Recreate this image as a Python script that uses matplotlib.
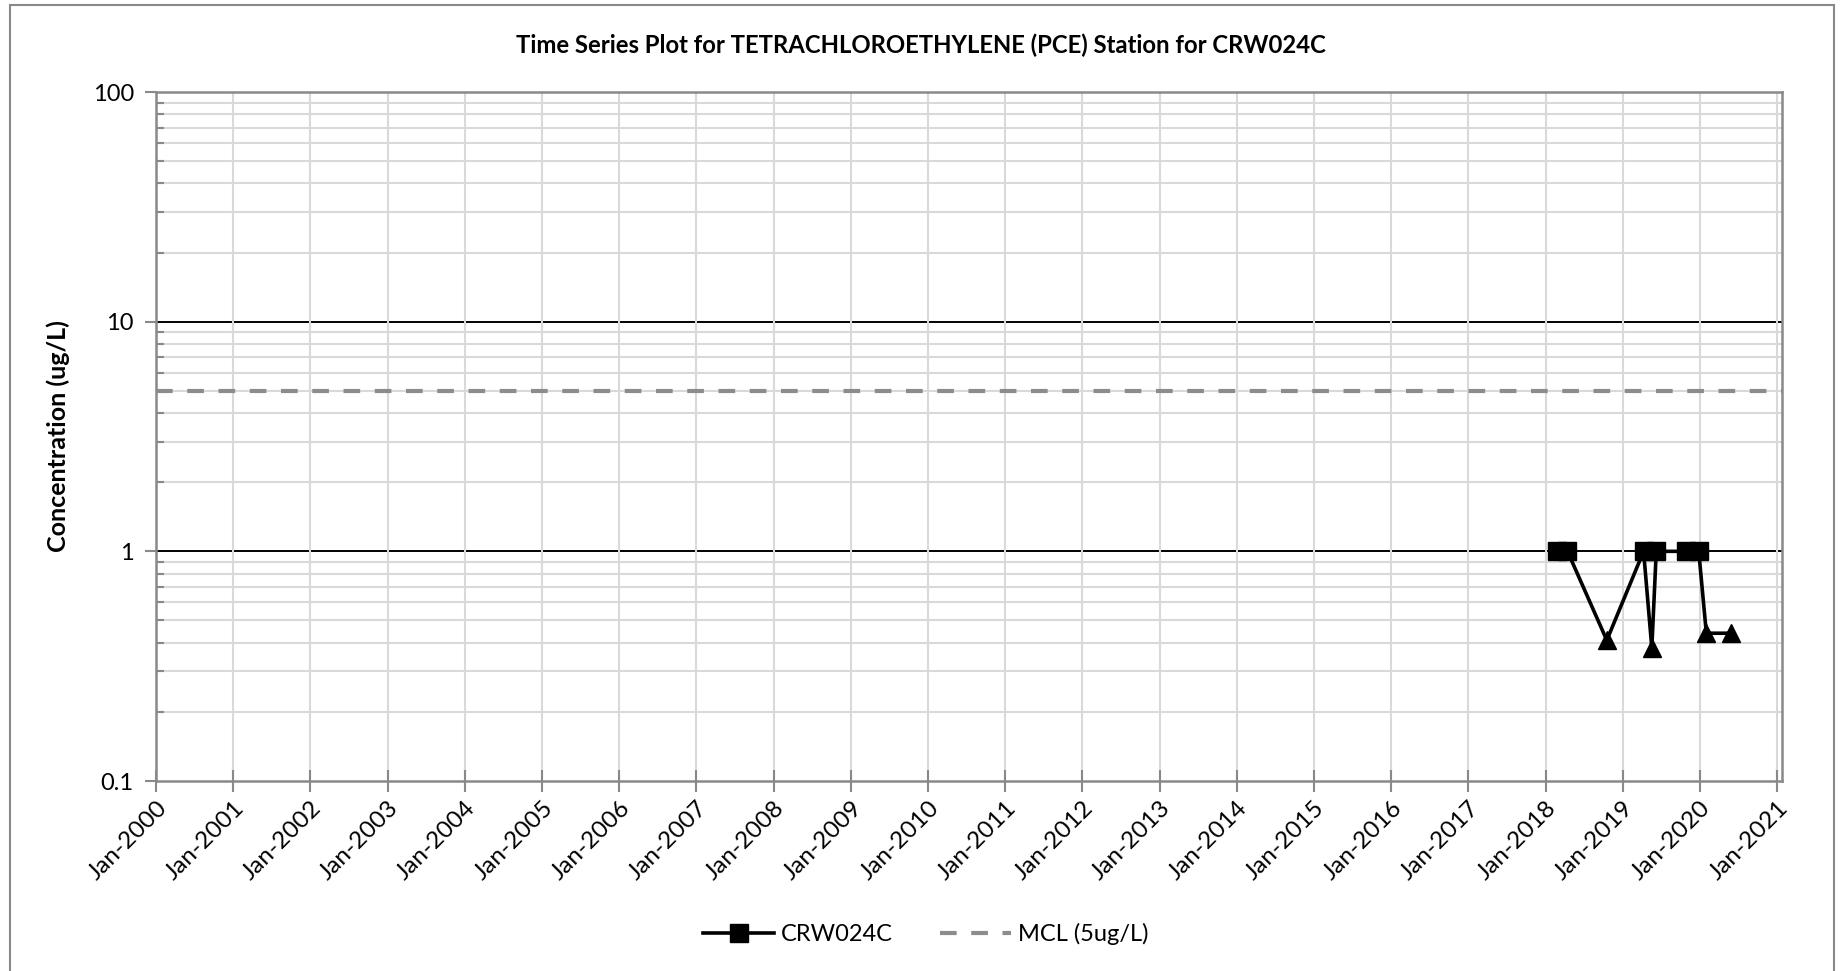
## Libraries:
import datetime as dt
import matplotlib
matplotlib.use("Agg")
import matplotlib.pyplot as plt
import matplotlib.dates as mdates
from matplotlib.lines import Line2D
from matplotlib.patches import Rectangle
from matplotlib.ticker import LogLocator, FixedLocator, FixedFormatter, NullFormatter

plt.rcParams['font.family'] = ['Lato', 'DejaVu Sans']

## Data:
sample_dates = ["2018-02-22", "2018-04-15", "2018-10-18", "2019-04-10", "2019-05-19",
                "2019-06-09", "2019-10-30", "2019-12-27", "2020-02-01", "2020-05-27"]
pce_values = [1.0, 1.0, 0.41, 1.0, 0.38, 1.0, 1.0, 1.0, 0.44, 0.44]
non_detect = [True, True, False, True, False, True, True, True, False, False]  # squares = reporting limit
mcl_value = 5.0
y_ticks = [0.1, 1, 10, 100]
y_tick_labels = ["0.1", "1", "10", "100"]

dates = [dt.datetime.strptime(d, "%Y-%m-%d") for d in sample_dates]

## Figure:
fig = plt.figure(figsize=(18.43, 9.71), dpi=100)
ax = fig.add_axes([156 / 1843, 1 - 781 / 971, (1782 - 156) / 1843, (781 - 92) / 971])

# outer chart border
fig.patches.append(Rectangle((10 / 1843, -0.05), (1834 - 10) / 1843, 1 - 5 / 971 + 0.05,
                             transform=fig.transFigure, fill=False, edgecolor='#898989',
                             linewidth=1.5, zorder=0))

ax.set_yscale('log')
ax.set_ylim(0.1, 100)
ax.set_xlim(dt.datetime(2000, 1, 1), dt.datetime(2021, 1, 24))

# gridlines
ax.yaxis.set_minor_locator(LogLocator(base=10, subs=range(2, 10)))
ax.yaxis.set_minor_formatter(NullFormatter())
ax.grid(which='minor', axis='y', color='#d9d9d9', linewidth=1.5, zorder=0)
for v in [1, 10]:
    ax.axhline(v, color='black', linewidth=1.4, zorder=1)
ax.xaxis.set_major_locator(mdates.YearLocator())
ax.xaxis.set_major_formatter(mdates.DateFormatter('%b-%Y'))
ax.grid(which='major', axis='x', color='#d9d9d9', linewidth=1.5, zorder=0)

ax.yaxis.set_major_locator(FixedLocator(y_ticks))
ax.yaxis.set_major_formatter(FixedFormatter(y_tick_labels))

# MCL line
ax.axhline(mcl_value, color='#8c8c8c', linewidth=3, linestyle=(0, (4, 3.5)), zorder=2)

# series
ax.plot(dates, pce_values, color='black', linewidth=2.6, zorder=3)
sq_x = [d for d, nd in zip(dates, non_detect) if nd]
sq_y = [v for v, nd in zip(pce_values, non_detect) if nd]
tr_x = [d for d, nd in zip(dates, non_detect) if not nd]
tr_y = [v for v, nd in zip(pce_values, non_detect) if not nd]
ax.plot(sq_x, sq_y, linestyle='none', marker='s', markersize=12.5, color='black', zorder=4)
ax.plot(tr_x, tr_y, linestyle='none', marker='^', markersize=12.5, color='black', zorder=4)

# spines and ticks
for s in ax.spines.values():
    s.set_color('#898989')
    s.set_linewidth(1.8)
ax.tick_params(axis='y', which='major', direction='out', length=8, width=1.5, color='#898989',
               labelsize=17, pad=8)
ax.tick_params(axis='y', which='minor', direction='in', length=6, width=1.5, color='#898989')
ax.tick_params(axis='x', which='major', direction='inout', length=16, width=1.5, color='#898989',
               labelsize=17.5, pad=4)
for lbl in ax.get_xticklabels():
    lbl.set_rotation(45)
    lbl.set_ha('right')
    lbl.set_rotation_mode('anchor')

ax.set_ylabel("Concentration (ug/L)", fontsize=18, fontweight='bold', labelpad=16)

fig.text(921 / 1843, 1 - 45 / 971, "Time Series Plot for TETRACHLOROETHYLENE (PCE) Station for CRW024C",
         ha='center', va='center', fontsize=17.2, fontweight='bold')

## Legend:
handles = [Line2D([], [], color='black', linewidth=2.6, marker='s', markersize=12.5),
           Line2D([], [], color='#8c8c8c', linewidth=3, linestyle=(0, (4, 3.5)))]
fig.legend(handles, ["CRW024C", "MCL (5ug/L)"], loc='center', ncol=2, frameon=False,
           bbox_to_anchor=(926 / 1843, 1 - 934 / 971), fontsize=17, handlelength=3.0,
           handletextpad=0.3, columnspacing=2.0)

fig.savefig("out.png", dpi=100)
